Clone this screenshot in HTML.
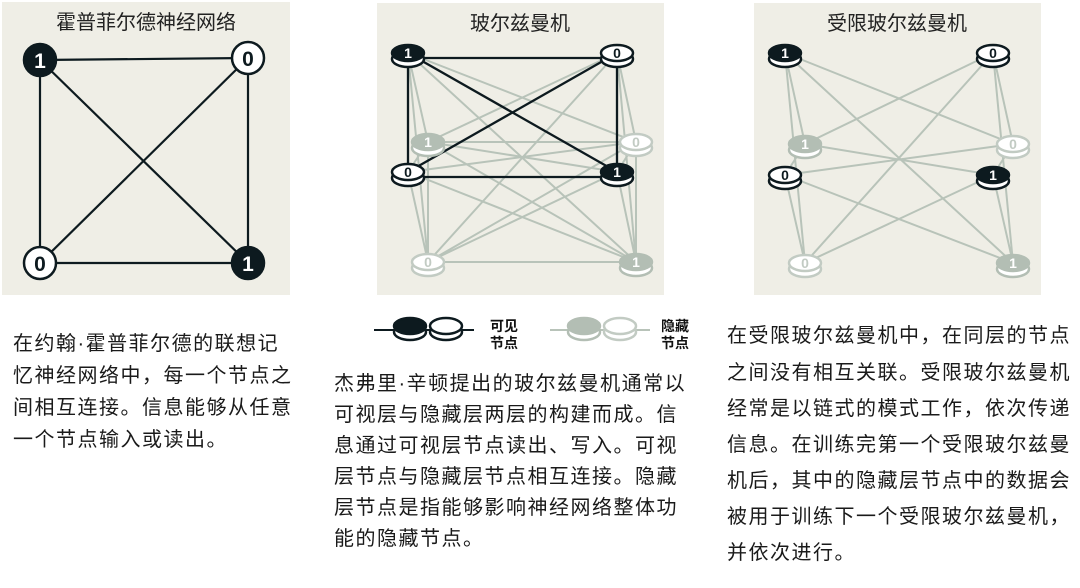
<!DOCTYPE html>
<html><head><meta charset="utf-8"><style>
body{margin:0;width:1080px;height:588px;background:#fff;overflow:hidden;position:relative;font-family:"Liberation Sans","Noto Sans CJK SC",sans-serif;color:#1a1a1a}
.t{position:absolute;font-size:20px;white-space:nowrap;line-height:20px;letter-spacing:1.5px}
</style></head><body>
<svg width="1080" height="588" style="position:absolute;left:0;top:0" font-family="Liberation Sans, Noto Sans CJK SC, sans-serif">
<defs>
<g id="dk"><ellipse cx="0" cy="6" rx="16" ry="8" fill="#fff" stroke="#0d1a1f" stroke-width="2.5"/><ellipse cx="0" cy="0" rx="16" ry="8" fill="#0d1a1f" stroke="#0d1a1f" stroke-width="2.5"/></g>
<g id="wt"><ellipse cx="0" cy="6" rx="16" ry="8" fill="#fff" stroke="#0d1a1f" stroke-width="2.5"/><ellipse cx="0" cy="0" rx="16" ry="8" fill="#fff" stroke="#0d1a1f" stroke-width="2.5"/></g>
<g id="gd"><ellipse cx="0" cy="6" rx="16" ry="8" fill="#fff" stroke="#b3beb4" stroke-width="2.5"/><ellipse cx="0" cy="0" rx="16" ry="8" fill="#b3beb4" stroke="#b3beb4" stroke-width="2.5"/></g>
<g id="gw"><ellipse cx="0" cy="6" rx="16" ry="8" fill="#fff" stroke="#c2cbc3" stroke-width="2.5"/><ellipse cx="0" cy="0" rx="16" ry="8" fill="#fff" stroke="#c2cbc3" stroke-width="2.5"/></g>
</defs>
<rect x="2" y="2" width="288" height="293" fill="#efeee6"/>
<rect x="377" y="3" width="287" height="292" fill="#efeee6"/>
<rect x="754" y="3" width="287" height="292" fill="#efeee6"/>
<text x="146" y="29" font-size="20" text-anchor="middle" fill="#222">霍普菲尔德神经网络</text>
<text x="520" y="30" font-size="20" text-anchor="middle" fill="#222">玻尔兹曼机</text>
<text x="897" y="30" font-size="20" text-anchor="middle" fill="#222">受限玻尔兹曼机</text>
<!-- panel 1 -->
<g stroke="#0d1a1f" stroke-width="2.2">
<line x1="40" y1="60" x2="248" y2="58"/><line x1="40" y1="60" x2="40" y2="263"/><line x1="40" y1="60" x2="248" y2="263"/>
<line x1="248" y1="58" x2="40" y2="263"/><line x1="248" y1="58" x2="248" y2="263"/><line x1="40" y1="263" x2="248" y2="263"/>
</g>
<circle cx="40" cy="60" r="16" fill="#0d1a1f" stroke="#0d1a1f" stroke-width="2.5"/>
<circle cx="248" cy="58" r="16" fill="#fff" stroke="#0d1a1f" stroke-width="2.5"/>
<circle cx="40" cy="263" r="16" fill="#fff" stroke="#0d1a1f" stroke-width="2.5"/>
<circle cx="248" cy="263" r="16" fill="#0d1a1f" stroke="#0d1a1f" stroke-width="2.5"/>
<g font-size="21" font-weight="bold" text-anchor="middle">
<text x="40" y="68" fill="#fff">1</text><text x="248" y="66" fill="#0d1a1f">0</text>
<text x="40" y="271" fill="#0d1a1f">0</text><text x="248" y="271" fill="#fff">1</text></g>
<!-- panel 2 -->
<g stroke="#b8c3b9" stroke-width="2">
<path d="M408 53L428 142M408 53L636 142M408 53L428 262M408 53L636 262M617 53L428 142M617 53L636 142M617 53L428 262M617 53L636 262M408 172L428 142M408 172L636 142M408 172L428 262M408 172L636 262M617 172L428 142M617 172L636 142M617 172L428 262M617 172L636 262M428 142L636 142M428 142L428 262M428 142L636 262M636 142L428 262M636 142L636 262M428 262L636 262"/>
</g>
<g stroke="#0d1a1f" stroke-width="2.3">
<path d="M408 58L617 58M408 53L408 172M408 53L617 172M617 53L408 172M617 53L617 172M408 177L617 177"/>
</g>
<use href="#gd" x="428" y="142"/><use href="#gw" x="636" y="142"/>
<use href="#gw" x="428" y="262"/><use href="#gd" x="636" y="262"/>
<use href="#dk" x="408" y="53"/><use href="#wt" x="617" y="53"/>
<use href="#wt" x="408" y="172"/><use href="#dk" x="617" y="172"/>
<!-- panel 3 -->
<g stroke="#b8c3b9" stroke-width="2">
<path d="M785 53L805 144M785 53L1013 144M785 53L805 263M785 53L1013 263M993 53L805 144M993 53L1013 144M993 53L805 263M993 53L1013 263M785 175L805 144M785 175L1013 144M785 175L805 263M785 175L1013 263M993 175L805 144M993 175L1013 144M993 175L805 263M993 175L1013 263"/>
</g>
<use href="#gd" x="805" y="144"/><use href="#gw" x="1013" y="144"/>
<use href="#gw" x="805" y="263"/><use href="#gd" x="1013" y="263"/>
<use href="#dk" x="785" y="53"/><use href="#wt" x="993" y="53"/>
<use href="#wt" x="785" y="175"/><use href="#dk" x="993" y="175"/>
<g font-size="14" font-weight="bold" text-anchor="middle">
<text x="408" y="58" fill="#fff">1</text><text x="617" y="58" fill="#0d1a1f">0</text>
<text x="408" y="177" fill="#0d1a1f">0</text><text x="617" y="177" fill="#fff">1</text>
<text x="428" y="147" fill="#fff">1</text><text x="636" y="147" fill="#c2cbc3">0</text>
<text x="428" y="267" fill="#c2cbc3">0</text><text x="636" y="267" fill="#fff">1</text>
<text x="785" y="58" fill="#fff">1</text><text x="993" y="58" fill="#0d1a1f">0</text>
<text x="785" y="180" fill="#0d1a1f">0</text><text x="993" y="180" fill="#fff">1</text>
<text x="805" y="149" fill="#fff">1</text><text x="1013" y="149" fill="#c2cbc3">0</text>
<text x="805" y="268" fill="#c2cbc3">0</text><text x="1013" y="268" fill="#fff">1</text>
</g>
<!-- legend -->
<line x1="374" y1="330" x2="474" y2="330" stroke="#0d1a1f" stroke-width="2"/>
<use href="#dk" x="410" y="326"/><use href="#wt" x="446" y="326"/>
<line x1="550" y1="330" x2="650" y2="330" stroke="#b8c3b9" stroke-width="2"/>
<use href="#gd" x="584" y="326"/><use href="#gw" x="620" y="326"/>
<g font-size="14" font-weight="bold" fill="#111">
<text x="490" y="331">可见</text><text x="490" y="348">节点</text>
<text x="661" y="331">隐藏</text><text x="661" y="348">节点</text></g>
</svg>
<div class="t" style="left:13px;top:334px">在约翰·霍普菲尔德的联想记</div>
<div class="t" style="left:13px;top:366px">忆神经网络中，每一个节点之</div>
<div class="t" style="left:13px;top:398px">间相互连接。信息能够从任意</div>
<div class="t" style="left:13px;top:430px">一个节点输入或读出。</div>
<div class="t" style="left:334px;top:374px">杰弗里·辛顿提出的玻尔兹曼机通常以</div>
<div class="t" style="left:334px;top:405px">可视层与隐藏层两层的构建而成。信</div>
<div class="t" style="left:334px;top:436px">息通过可视层节点读出、写入。可视</div>
<div class="t" style="left:334px;top:467px">层节点与隐藏层节点相互连接。隐藏</div>
<div class="t" style="left:334px;top:498px">层节点是指能够影响神经网络整体功</div>
<div class="t" style="left:334px;top:529px">能的隐藏节点。</div>
<div class="t" style="left:727px;top:326px">在受限玻尔兹曼机中，在同层的节点</div>
<div class="t" style="left:727px;top:363px">之间没有相互关联。受限玻尔兹曼机</div>
<div class="t" style="left:727px;top:399px">经常是以链式的模式工作，依次传递</div>
<div class="t" style="left:727px;top:435px">信息。在训练完第一个受限玻尔兹曼</div>
<div class="t" style="left:727px;top:471px">机后，其中的隐藏层节点中的数据会</div>
<div class="t" style="left:727px;top:507px">被用于训练下一个受限玻尔兹曼机，</div>
<div class="t" style="left:727px;top:543px">并依次进行。</div>
</body></html>
